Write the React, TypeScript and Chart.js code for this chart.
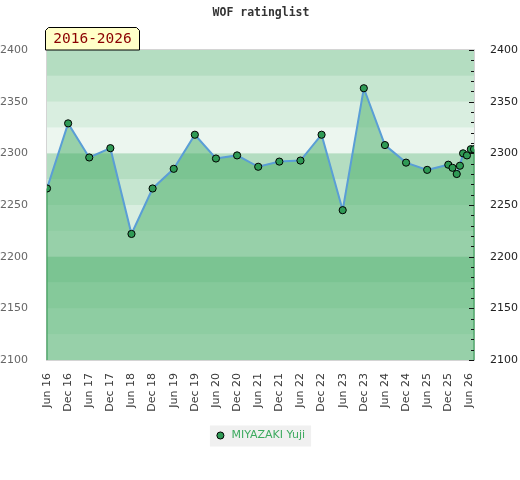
import React, { useEffect, useRef } from "react";
import { Chart, registerables } from "chart.js";

Chart.register(...registerables);

// months since Jun 2016
const monthOffsets = [
	0, 6, 12, 18, 24, 30, 36, 42, 48, 54, 60, 66, 72, 78, 84, 90, 96, 102, 108, 114,
	115.2, 116.4, 117.3, 118.2, 119.3, 120.4, 121.3,
];
const ratings = [
	2266, 2329, 2296, 2305, 2222, 2266, 2285, 2318, 2295, 2298, 2287, 2292, 2293, 2318,
	2245, 2363, 2308, 2291, 2284, 2289, 2286, 2280, 2288, 2300, 2298, 2304, 2304,
];
const tickMonths = [0, 6, 12, 18, 24, 30, 36, 42, 48, 54, 60, 66, 72, 78, 84, 90, 96, 102, 108, 114, 120];
const tickLabels = [
	"Jun 16", "Dec 16", "Jun 17", "Dec 17", "Jun 18", "Dec 18", "Jun 19", "Dec 19",
	"Jun 20", "Dec 20", "Jun 21", "Dec 21", "Jun 22", "Dec 22", "Jun 23", "Dec 23",
	"Jun 24", "Dec 24", "Jun 25", "Dec 25", "Jun 26",
];
const playerName = "MIYAZAKI Yuji";
const chartTitle = "WOF ratinglist";
const periodLabel = "2016-2026";

const GREEN = "67,171,100";

const decorPlugin = {
	id: "decor",
	beforeDraw(chart: any) {
		const { ctx } = chart;
		const hb = chart.legend?.legendHitBoxes?.[0];
		if (hb) {
			ctx.save();
			ctx.fillStyle = "#f0f0f0";
			ctx.fillRect(hb.left - 5, hb.top + hb.height / 2 - 10, hb.width + 11, 21);
			ctx.restore();
		}
	},
	beforeDatasetsDraw(chart: any) {
		const { ctx, chartArea: a, scales } = chart;
		const y = scales.y;
		ctx.save();
		// striped background, 25 points per band
		for (let v = y.min; v < y.max; v += 25) {
			const level = Math.round((v - y.min) / 25) % 4;
			const top = y.getPixelForValue(v + 25);
			const bottom = y.getPixelForValue(v);
			ctx.fillStyle = `rgba(${GREEN},${0.1 + level * 0.1})`;
			ctx.fillRect(a.left, top, a.right - a.left, bottom - top);
		}
		// border
		ctx.strokeStyle = "#d4d4d4";
		ctx.lineWidth = 1;
		ctx.strokeRect(a.left - 0.5, a.top - 0.5, a.right - a.left + 1, a.bottom - a.top + 1);
		// closing edges of the area
		const pts = chart.getDatasetMeta(0).data;
		ctx.strokeStyle = "#3a9c58";
		ctx.lineWidth = 1.2;
		[pts[0], pts[pts.length - 1]].forEach((p: any) => {
			ctx.beginPath();
			ctx.moveTo(p.x, p.y);
			ctx.lineTo(p.x, a.bottom);
			ctx.stroke();
		});
		ctx.restore();
	},
	afterDraw(chart: any) {
		const { ctx, chartArea: a, scales } = chart;
		const y2 = scales.y2;
		ctx.save();
		// right axis tick marks
		ctx.strokeStyle = "#111";
		ctx.lineWidth = 1;
		for (let v = y2.min; v <= y2.max; v += 10) {
			const py = Math.round(y2.getPixelForValue(v)) + 0.5;
			const len = v % 50 === 0 ? 5 : 3;
			ctx.beginPath();
			ctx.moveTo(a.right - len, py);
			ctx.lineTo(a.right, py);
			ctx.stroke();
		}
		// title
		ctx.fillStyle = "#333";
		ctx.font = "bold 11.5px 'DejaVu Sans Mono'";
		ctx.textAlign = "center";
		ctx.textBaseline = "middle";
		ctx.fillText(chartTitle, 261, 13.5);
		// period badge
		const l = a.left - 2, r = 140, t = 27, b = a.top;
		ctx.beginPath();
		ctx.moveTo(l + 0.5, b);
		ctx.lineTo(l + 0.5, t + 3.5);
		ctx.lineTo(l + 3.5, t + 0.5);
		ctx.lineTo(r - 3.5, t + 0.5);
		ctx.lineTo(r - 0.5, t + 3.5);
		ctx.lineTo(r - 0.5, b);
		ctx.closePath();
		ctx.fillStyle = "#ffffc8";
		ctx.fill();
		ctx.strokeStyle = "#000";
		ctx.stroke();
		ctx.fillStyle = "#8b0000";
		ctx.font = "14.5px 'DejaVu Sans Mono'";
		ctx.fillText(periodLabel, (l + r) / 2, (t + b) / 2 + 1);
		ctx.restore();
	},
};

const RatingChart: React.FC = () => {
	const chartRef = useRef<HTMLCanvasElement>(null);

	useEffect(() => {
		if (!chartRef.current) return;
		Chart.defaults.font.family = "'DejaVu Sans'";
		Chart.defaults.font.size = 11;

		const chart = new Chart(chartRef.current, {
			type: "line",
			data: {
				datasets: [
					{
						label: playerName,
						data: monthOffsets.map((m, i) => ({ x: m, y: ratings[i] })),
						borderColor: "#5a9ed6",
						borderWidth: 2,
						backgroundColor: `rgba(${GREEN},0.5)`,
						fill: "start",
						tension: 0,
						pointRadius: 3.6,
						pointBackgroundColor: "#2f9a55",
						pointBorderColor: "#000",
						pointBorderWidth: 1,
						yAxisID: "y",
					},
				],
			},
			options: {
				responsive: false,
				animation: false,
				events: [],
				layout: { padding: { top: 50, bottom: 29, left: 0, right: 0 } },
				plugins: {
					title: { display: false },
					tooltip: { enabled: false },
					legend: {
						position: "bottom",
						labels: {
							usePointStyle: true,
							pointStyle: "circle",
							boxWidth: 17,
							boxHeight: 5,
							padding: 12,
							color: "#3daa5f",
							font: { size: 11 },
						},
					},
				},
				scales: {
					x: {
						type: "linear",
						min: 0,
						max: monthOffsets[monthOffsets.length - 1],
						grid: { display: false },
						border: { display: false },
						afterBuildTicks: (s: any) => {
							s.ticks = tickMonths.map((v) => ({ value: v }));
						},
						afterFit: (s: any) => {
							s.height = 58;
						},
						ticks: {
							autoSkip: false,
							minRotation: 90,
							maxRotation: 90,
							padding: 5,
							color: "#3a3a3a",
							callback: (_v: any, i: number) => tickLabels[i],
						},
					},
					y: {
						position: "left",
						min: 2100,
						max: 2400,
						grid: { display: false },
						border: { display: false },
						afterFit: (s: any) => {
							s.width = 47;
						},
						ticks: { stepSize: 50, color: "#666", padding: 11, callback: (v: any) => String(v) },
					},
					y2: {
						position: "right",
						min: 2100,
						max: 2400,
						display: true,
						grid: { display: false },
						border: { display: false },
						afterFit: (s: any) => {
							s.width = 46;
						},
						ticks: { stepSize: 50, color: "#222", padding: 8, callback: (v: any) => String(v) },
					},
				},
			},
			plugins: [decorPlugin],
		});

		return () => {
			chart.destroy();
		};
	}, []);

	return (
		<div style={{ position: "absolute", left: 0, top: 0, width: 520, height: 480, background: "#fff" }}>
			<canvas ref={chartRef} width={520} height={480} />
		</div>
	);
};

export default function App() {
	return <RatingChart />;
}
